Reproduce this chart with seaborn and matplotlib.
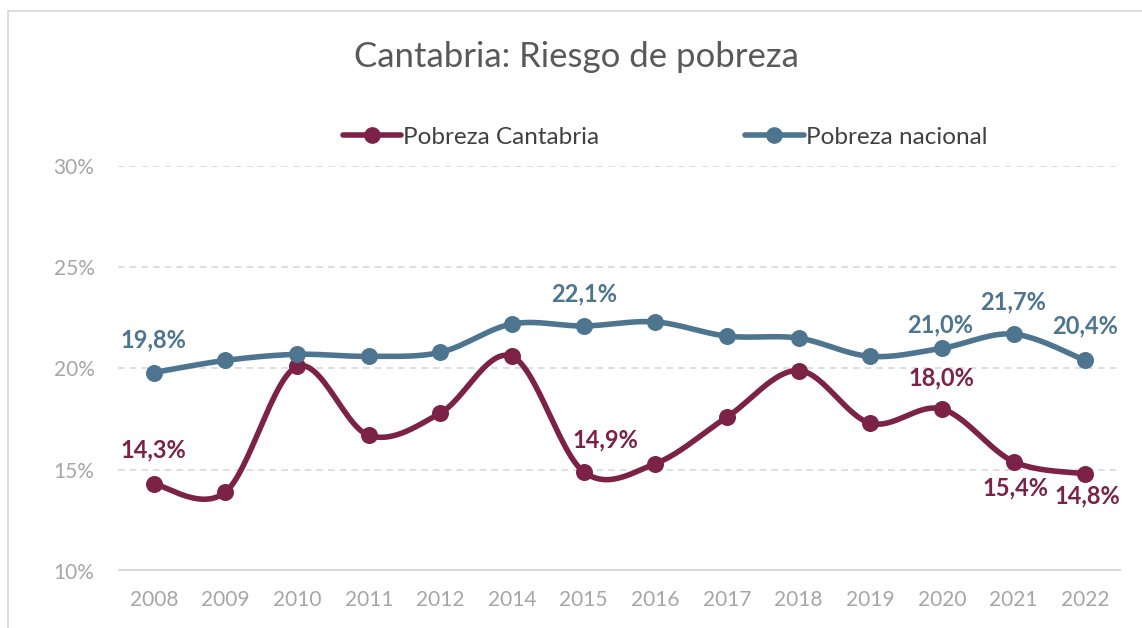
import numpy as np
import pandas as pd
import matplotlib.pyplot as plt
from matplotlib.lines import Line2D
from matplotlib.patches import Rectangle
import seaborn as sns

# Data
years = ["2008", "2009", "2010", "2011", "2012", "2014", "2015",
         "2016", "2017", "2018", "2019", "2020", "2021", "2022"]
cantabria = [14.3, 13.9, 20.1, 16.7, 17.8, 20.6, 14.9,
             15.3, 17.6, 19.9, 17.3, 18.0, 15.4, 14.8]
nacional = [19.8, 20.4, 20.7, 20.6, 20.8, 22.2, 22.1,
            22.3, 21.6, 21.5, 20.6, 21.0, 21.7, 20.4]

# which points carry a label, and where (offset in pixels: dx, dy)
lab_cant = {0: (0, 34), 6: (22, 32), 11: (0, 31), 12: (2, -26), 13: (2, -22)}
lab_nac = {0: (0, 33), 6: (0, 32), 11: (-2, 23), 12: (0, 32), 13: (0, 34)}

c_cant = "#7b2246"
c_nac = "#4e758f"


def smooth(y, n=30):
    # Excel-like smoothed line (Catmull-Rom)
    y = np.asarray(y, float)
    x = np.arange(len(y), dtype=float)
    px = np.concatenate([[x[0]], x, [x[-1]]])
    py = np.concatenate([[y[0]], y, [y[-1]]])
    xs, ys = [], []
    t = np.linspace(0, 1, n)
    for i in range(1, len(px) - 2):
        p0, p1, p2, p3 = (np.array([px[j], py[j]]) for j in (i - 1, i, i + 1, i + 2))
        b1 = p1 + (p2 - p0) / 6
        b2 = p2 - (p3 - p1) / 6
        pts = ((1 - t) ** 3)[:, None] * p1 + (3 * (1 - t) ** 2 * t)[:, None] * b1 \
            + (3 * (1 - t) * t ** 2)[:, None] * b2 + (t ** 3)[:, None] * p2
        xs.extend(pts[:, 0])
        ys.extend(pts[:, 1])
    return np.array(xs), np.array(ys)


sns.set_style("white")
plt.rcParams["font.family"] = ["Lato", "DejaVu Sans"]

fig = plt.figure(figsize=(11.42, 6.28), dpi=100)
ax = fig.add_axes([118 / 1142, 1 - 571 / 628, (1121 - 118) / 1142, (571 - 166) / 628])

# chart border
fig.patches.append(Rectangle((8 / 1142, -0.05), 1.2, 1 - 11 / 628 + 0.05,
                             transform=fig.transFigure, fill=False,
                             edgecolor="#d9d9d9", linewidth=1.3))

x = np.arange(len(years))
for vals, col in [(cantabria, c_cant), (nacional, c_nac)]:
    sx, sy = smooth(vals)
    sns.lineplot(x=sx, y=sy, ax=ax, color=col, linewidth=4, sort=False, zorder=3)
    sns.scatterplot(x=x, y=vals, ax=ax, color=col, s=150, edgecolor=col,
                    linewidth=0, zorder=4)

for vals, labs, col in [(cantabria, lab_cant, c_cant), (nacional, lab_nac, c_nac)]:
    for i, off in labs.items():
        ax.annotate(f"{vals[i]:.1f}%".replace(".", ","), (x[i], vals[i]),
                    xytext=off, textcoords="offset pixels",
                    ha="center", va="center", fontsize=17, fontweight="bold",
                    color=col)

ax.set_xlim(-0.5, len(years) - 0.5)
ax.set_ylim(10, 30)
ax.set_yticks([10, 15, 20, 25, 30])
ax.set_yticklabels(["10%", "15%", "20%", "25%", "30%"])
ax.set_xticks(x)
ax.set_xticklabels(years)
ax.tick_params(axis="both", length=0, labelsize=15, labelcolor="#a6a6a6")
ax.tick_params(axis="y", pad=17)
ax.tick_params(axis="x", pad=14)
for yv in [15, 20, 25, 30]:
    ax.axhline(yv, color="#d9d9d9", linewidth=1.2, linestyle=(0, (4, 3)), zorder=1)
ax.axhline(10, color="#d9d9d9", linewidth=3, zorder=2)
for s in ax.spines.values():
    s.set_visible(False)
ax.set_xlabel("")
ax.set_ylabel("")

fig.text(576 / 1142, 1 - 57 / 628, "Cantabria: Riesgo de pobreza", ha="center",
         va="center", fontsize=25, color="#595959")

handles = [Line2D([], [], color=c_cant, lw=4, marker="o", markersize=11),
           Line2D([], [], color=c_nac, lw=4, marker="o", markersize=11)]
fig.legend(handles, ["Pobreza Cantabria", "Pobreza nacional"], loc="center",
           bbox_to_anchor=(665 / 1142, 1 - 137 / 628), ncol=2, frameon=False,
           fontsize=17.5, labelcolor="#404040", columnspacing=6.0, handlelength=2.4,
           handletextpad=0.1)

fig.savefig("out.png", dpi=100)
